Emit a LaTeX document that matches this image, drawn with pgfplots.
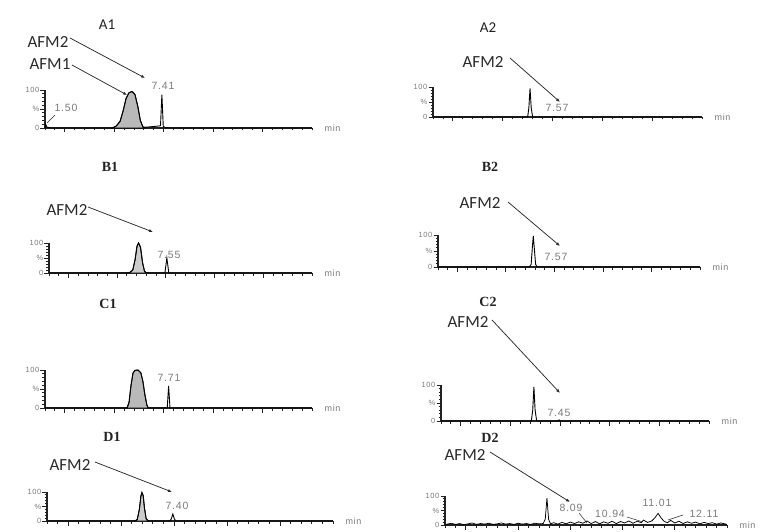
\documentclass[border=0pt]{standalone}
\usepackage{pgfplots}
\pgfplotsset{compat=1.18}
\usepackage{fontspec}
\setmainfont{Carlito}
\newfontfamily\numfont[LetterSpace=8]{Liberation Sans}
\newfontfamily\ttlfont{Liberation Serif}
\usetikzlibrary{arrows.meta}
\definecolor{ax}{HTML}{222222}
\definecolor{lbl}{HTML}{2A2A2A}
\definecolor{num}{HTML}{7A7A7A}
\tikzset{
  ann/.style={lbl, line width=0.75pt, -{Latex[length=4pt,width=3.2pt]}},
  afm/.style={font=\fontsize{17}{17}\selectfont, text=lbl},
  ttlA/.style={font=\fontsize{15}{15}\selectfont, text=ax},
  ttlB/.style={font=\ttlfont\bfseries\fontsize{14}{14}\selectfont, text=ax},
  nl/.style={font=\numfont\fontsize{10.5}{10.5}\selectfont, text=num},
  minlbl/.style={anchor=west, xshift=9pt, font=\numfont\fontsize{9}{9}\selectfont, text=num},
  tr/.style={black, line width=0.9pt, mark=none},
}
\pgfplotsset{
  chrom/.style={
    scale only axis, clip=false,
    axis lines*=left, axis line style={-, line width=1.3pt, ax},
    xmin=1.5, xmax=15, ymin=0, ymax=100,
    xtick={2.5,5,7.5,10,12.5}, minor xtick={1.5,2,...,15},
    xticklabels={},
    ytick={0,50,100}, yticklabels={0,\%,100},
    minor ytick={10,20,...,90},
    tick align=outside,
    major tick length=4.5pt, minor tick length=2.5pt,
    tick style={ax, line width=0.9pt},
    yticklabel style={font=\numfont\fontsize{7.5}{7.5}\selectfont, text=num, inner sep=1pt},
    cycle list={{black, line width=0.9pt, mark=none}},
  },
}
\begin{document}
\begin{tikzpicture}
\path[use as bounding box] (0pt,0pt) rectangle (760pt,531pt);

% ---------------- A1 ----------------
\begin{axis}[chrom, at={(45pt,403pt)}, anchor=south west, width=267pt, height=38pt]
\addplot[fill=gray!55, draw=black, line width=0.9pt, mark=none] coordinates {(4.9,0)(5.1,5)(5.3,18)(5.45,45)(5.6,78)(5.75,93)(5.9,96)(6.05,88)(6.2,55)(6.32,20)(6.45,3)(6.55,0)} \closedcycle;
\addplot[tr] coordinates {(1.5,0)(1.53,10)(1.6,2)(1.8,0)(4.9,0)(5.1,5)(5.3,18)(5.45,45)(5.6,78)(5.75,93)(5.9,96)(6.05,88)(6.2,55)(6.32,20)(6.45,3)(6.55,2)(6.8,3)(7.0,4)(7.2,5)(7.34,6)(7.41,88)(7.48,4)(7.6,1)(7.8,0)(15,0)};
\node[minlbl] at (rel axis cs:1,0) {min};
\end{axis}
\node[ttlA] at (107pt,506pt) {A1};
\node[afm] at (48pt,489pt) {AFM2};
\draw[ann] (70pt,493pt) -- (145pt,453pt);
\node[afm] at (50pt,467pt) {AFM1};
\draw[ann] (72pt,466pt) -- (127pt,436pt);
\node[nl] at (163pt,445pt) {7.41};
\node[nl] at (66pt,423pt) {1.50};
\draw[lbl, line width=0.5pt] (55pt,416pt) -- (47pt,408pt);

% ---------------- A2 ----------------
\begin{axis}[chrom, at={(433pt,414pt)}, anchor=south west, width=269pt, height=30pt]
\addplot[tr] coordinates {(1.5,0)(6.25,0)(6.31,30)(6.37,95)(6.43,30)(6.5,0)(7.5,0)(7.57,2)(7.64,0)(15,0)};
\node[minlbl] at (rel axis cs:1,0) {min};
\end{axis}
\node[ttlA] at (488pt,503pt) {A2};
\node[afm] at (483pt,469pt) {AFM2};
\draw[ann] (510pt,473pt) -- (560pt,429pt);
\node[nl] at (557pt,423pt) {7.57};

% ---------------- B1 ----------------
\begin{axis}[chrom, at={(49pt,258pt)}, anchor=south west, width=263pt, height=30pt]
\addplot[fill=gray!40, draw=black, line width=0.9pt, mark=none] coordinates {(5.55,0)(5.65,2)(5.8,10)(5.92,45)(6.02,90)(6.1,100)(6.2,85)(6.3,35)(6.4,6)(6.5,0)} \closedcycle;
\addplot[tr] coordinates {(1.5,0)(5.55,0)(5.65,2)(5.8,10)(5.92,45)(6.02,90)(6.1,100)(6.2,85)(6.3,35)(6.4,6)(6.5,1)(6.7,0)(7.45,0)(7.55,50)(7.65,0)(15,0)};
\node[minlbl] at (rel axis cs:1,0) {min};
\end{axis}
\node[ttlB] at (110pt,364pt) {B1};
\node[afm] at (67pt,321pt) {AFM2};
\draw[ann] (88pt,324pt) -- (153pt,299pt);
\node[nl] at (169pt,276pt) {7.55};

% ---------------- B2 ----------------
\begin{axis}[chrom, at={(438pt,264pt)}, anchor=south west, width=262pt, height=32pt]
\addplot[tr] coordinates {(1.5,0)(6.2,0)(6.3,8)(6.36,60)(6.41,97)(6.46,60)(6.53,8)(6.62,0)(7.5,0)(7.57,2)(7.64,0)(15,0)};
\node[minlbl] at (rel axis cs:1,0) {min};
\end{axis}
\node[ttlB] at (490pt,364pt) {B2};
\node[afm] at (480pt,328pt) {AFM2};
\draw[ann] (508pt,329pt) -- (560pt,285pt);
\node[nl] at (556pt,274pt) {7.57};

% ---------------- C1 ----------------
\begin{axis}[chrom, at={(45pt,123pt)}, anchor=south west, width=267pt, height=38pt]
\addplot[fill=gray!55, draw=black, line width=0.9pt, mark=none] coordinates {(5.65,0)(5.75,15)(5.85,60)(5.95,92)(6.05,99)(6.2,100)(6.35,92)(6.45,70)(6.55,35)(6.65,8)(6.72,0)} \closedcycle;
\addplot[tr] coordinates {(1.5,0)(5.65,0)(5.75,15)(5.85,60)(5.95,92)(6.05,99)(6.2,100)(6.35,92)(6.45,70)(6.55,35)(6.65,8)(6.72,0)(7.68,0)(7.75,58)(7.82,0)(15,0)};
\node[minlbl] at (rel axis cs:1,0) {min};
\end{axis}
\node[ttlB] at (108pt,227pt) {C1};
\node[nl] at (169pt,153pt) {7.71};

% ---------------- C2 ----------------
\begin{axis}[chrom, at={(441pt,110pt)}, anchor=south west, width=268pt, height=36pt]
\addplot[tr] coordinates {(1.5,0)(6.05,0)(6.12,30)(6.18,95)(6.24,30)(6.32,0)(7.4,0)(7.45,3)(7.5,0)(15,0)};
\node[minlbl] at (rel axis cs:1,0) {min};
\end{axis}
\node[ttlB] at (488pt,229pt) {C2};
\node[afm] at (468pt,209pt) {AFM2};
\draw[ann] (492pt,211pt) -- (560pt,138pt);
\node[nl] at (559pt,118pt) {7.45};

% ---------------- D1 ----------------
\begin{axis}[chrom, at={(47pt,10pt)}, anchor=south west, width=286pt, height=29pt]
\addplot[fill=gray!40, draw=black, line width=0.9pt, mark=none] coordinates {(5.65,0)(5.76,5)(5.86,40)(5.93,85)(5.98,98)(6.04,88)(6.1,45)(6.18,8)(6.28,0)} \closedcycle;
\addplot[tr] coordinates {(1.5,0)(5.65,0)(5.76,5)(5.86,40)(5.93,85)(5.98,98)(6.04,88)(6.1,45)(6.18,8)(6.28,0)(7.3,0)(7.37,8)(7.44,24)(7.51,8)(7.58,0)(15,0)};
\node[minlbl] at (rel axis cs:1,0) {min};
\end{axis}
\node[ttlB] at (112pt,94pt) {D1};
\node[afm] at (70pt,66pt) {AFM2};
\draw[ann] (95pt,69pt) -- (172pt,39pt);
\node[nl] at (177pt,25pt) {7.40};

% ---------------- D2 ----------------
\begin{axis}[chrom, at={(445pt,6pt)}, anchor=south west, width=282pt, height=29pt]
\addplot[tr, line width=0.75pt] coordinates {(1.5,0)(1.6,3)(1.8,6)(2.0,2)(2.2,5)(2.4,1)(2.6,4)(2.8,7)(3.0,2)(3.2,5)(3.4,3)(3.6,6)(3.8,2)(4.0,4)(4.2,7)(4.4,3)(4.6,5)(4.8,2)(5.0,6)(5.2,3)(5.4,5)(5.6,2)(5.8,6)(6.0,4)(6.2,5)(6.3,20)(6.38,93)(6.46,20)(6.55,4)(6.7,8)(6.9,3)(7.1,9)(7.3,4)(7.5,10)(7.7,5)(7.9,11)(8.1,6)(8.3,14)(8.5,5)(8.7,12)(8.9,4)(9.1,11)(9.3,6)(9.5,13)(9.7,5)(9.9,12)(10.1,7)(10.3,14)(10.5,6)(10.7,13)(10.9,8)(11.0,17)(11.2,9)(11.4,14)(11.55,25)(11.7,40)(11.85,24)(12.0,12)(12.15,8)(12.3,16)(12.5,7)(12.7,13)(12.9,5)(13.1,11)(13.3,6)(13.5,10)(13.7,4)(13.9,9)(14.1,5)(14.3,8)(14.5,3)(14.7,7)(14.9,4)(15,2)};
\node[minlbl] at (rel axis cs:1,0) {min};
\end{axis}
\node[ttlB] at (490pt,93pt) {D2};
\node[afm] at (465pt,76pt) {AFM2};
\draw[ann] (490pt,79pt) -- (570pt,29pt);
\node[nl] at (571pt,23pt) {8.09};
\node[nl] at (610pt,17pt) {10.94};
\node[nl] at (657pt,28pt) {11.01};
\node[nl] at (704pt,17pt) {12.11};
\draw[lbl, line width=0.5pt] (579pt,18pt) -- (587pt,8pt);
\draw[lbl, line width=0.5pt] (627pt,14pt) -- (643pt,9pt);
\draw[lbl, line width=0.5pt] (683pt,16pt) -- (668pt,11pt);
\end{tikzpicture}
\end{document}
